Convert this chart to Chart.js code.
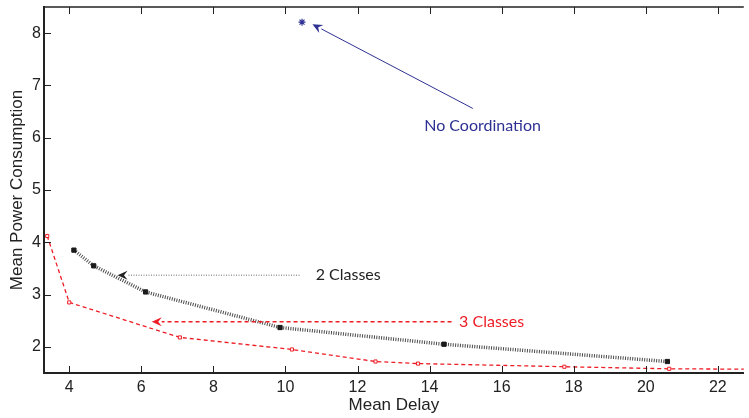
<!DOCTYPE html>
<html><head><meta charset="utf-8">
<script src="https://cdn.jsdelivr.net/npm/chart.js@4"></script>
<style>html,body{margin:0;padding:0;background:#fff;overflow:hidden}</style>
</head><body>
<canvas id="c" width="749" height="418"></canvas>
<script>
// ---- data ----
const xTickValues = [4, 6, 8, 10, 12, 14, 16, 18, 20, 22];
const yTickValues = [2, 3, 4, 5, 6, 7, 8];
const twoClassDelay = [4.13, 4.68, 6.12, 9.85, 14.4, 20.6];
const twoClassPower = [3.85, 3.55, 3.05, 2.37, 2.05, 1.72];
const threeClassDelay = [3.39, 4.0, 7.07, 10.18, 12.5, 13.68, 17.74, 20.65, 24.0];
const threeClassPower = [4.12, 2.85, 2.18, 1.95, 1.72, 1.68, 1.62, 1.58, 1.57];
const noCoordDelay = [10.46];
const noCoordPower = [8.21];
// annotation labels and arrows (data coordinates: [fromX, fromY, toX, toY])
const annotLabels = ['No Coordination', '2 Classes', '3 Classes'];
const annotLabelPos = [[13.85, 6.23], [10.84, 3.38], [14.82, 2.48]];
const annotArrows = [[15.2, 6.56, 10.75, 8.17], [10.39, 3.37, 5.34, 3.37], [14.61, 2.48, 6.29, 2.48]];

const BLUE = '#2e3192', RED = '#ee1c25', INK = '#222222';
const annotColors = [BLUE, INK, RED];
const annotLineColors = [BLUE, '#9a9a9a', RED];
const annotDashes = [[], [1, 1.5], [4, 3]];
const annotWidths = [1, 1.5, 1.5];

const pts = (xs, ys) => xs.map((v, i) => ({x: v, y: ys[i]}));

function drawArrow(ctx, x1, y1, x2, y2, color, lineColor, dash, lw) {
  const ang = Math.atan2(y2 - y1, x2 - x1);
  const hl = 10, hw = 4.5;
  const bx = x2 - hl * Math.cos(ang), by = y2 - hl * Math.sin(ang);
  ctx.save();
  ctx.strokeStyle = lineColor; ctx.lineWidth = lw; ctx.setLineDash(dash);
  ctx.beginPath(); ctx.moveTo(x1, y1); ctx.lineTo(bx, by); ctx.stroke();
  ctx.setLineDash([]);
  ctx.fillStyle = color;
  ctx.beginPath();
  ctx.moveTo(x2, y2);
  ctx.lineTo(bx - hw * Math.sin(ang), by + hw * Math.cos(ang));
  ctx.lineTo(x2 - 0.65 * hl * Math.cos(ang), y2 - 0.65 * hl * Math.sin(ang));
  ctx.lineTo(bx + hw * Math.sin(ang), by - hw * Math.cos(ang));
  ctx.closePath(); ctx.fill();
  ctx.restore();
}

const boxPlugin = {
  id: 'box',
  afterDraw(chart) {
    const {ctx, chartArea: a, scales: {x, y}} = chart;
    ctx.save();
    ctx.strokeStyle = INK;
    ctx.lineWidth = 1.5;
    ctx.beginPath(); ctx.moveTo(a.left, a.top); ctx.lineTo(a.right, a.top); ctx.stroke();
    ctx.lineWidth = 1;
    ctx.beginPath();
    xTickValues.forEach(v => {
      const px = Math.round(x.getPixelForValue(v)) + 0.5;
      ctx.moveTo(px, a.bottom); ctx.lineTo(px, a.bottom - 7);
      ctx.moveTo(px, a.top); ctx.lineTo(px, a.top + 7);
    });
    yTickValues.forEach(v => {
      const py = Math.round(y.getPixelForValue(v)) + 0.5;
      ctx.moveTo(a.left, py); ctx.lineTo(a.left + 7, py);
    });
    ctx.stroke();
    ctx.restore();
    annotArrows.forEach((r, i) => {
      drawArrow(ctx, x.getPixelForValue(r[0]), y.getPixelForValue(r[1]),
        x.getPixelForValue(r[2]), y.getPixelForValue(r[3]),
        annotColors[i], annotLineColors[i], annotDashes[i], annotWidths[i]);
    });
    ctx.save();
    ctx.font = '16px Lato';
    ctx.textAlign = 'left'; ctx.textBaseline = 'middle';
    annotLabels.forEach((t, i) => {
      ctx.fillStyle = annotColors[i];
      ctx.fillText(t, x.getPixelForValue(annotLabelPos[i][0]), y.getPixelForValue(annotLabelPos[i][1]));
    });
    ctx.restore();
  }
};

new Chart(document.getElementById('c'), {
  type: 'scatter',
  data: {
    datasets: [
      {
        label: '2 Classes', data: pts(twoClassDelay, twoClassPower), showLine: true,
        borderColor: '#4a4a4a', borderWidth: 3.5, borderDash: [1, 1.4],
        pointStyle: 'rect', pointRadius: 3, pointBorderWidth: 1,
        pointBackgroundColor: '#1a1a1a', pointBorderColor: '#1a1a1a'
      },
      {
        label: '3 Classes', data: pts(threeClassDelay, threeClassPower), showLine: true,
        borderColor: RED, borderWidth: 1.3, borderDash: [4, 3],
        pointStyle: 'rect', pointRadius: 2.2, pointBorderWidth: 1,
        pointBackgroundColor: '#ffffff', pointBorderColor: RED
      },
      {
        label: 'No Coordination', data: pts(noCoordDelay, noCoordPower), showLine: false,
        pointStyle: 'star', pointRadius: 3.5, pointBorderWidth: 1.2,
        pointBorderColor: BLUE, pointBackgroundColor: BLUE
      }
    ]
  },
  options: {
    responsive: false, animation: false, devicePixelRatio: 1,
    layout: {padding: {top: 7, right: 0, left: 0, bottom: 0}},
    plugins: {legend: {display: false}, tooltip: {enabled: false}},
    scales: {
      x: {
        type: 'linear', min: 3.3, max: 22.72,
        afterBuildTicks: s => { s.ticks = xTickValues.map(v => ({value: v})); },
        afterFit: s => { s.height = 45; s.paddingLeft = 0; s.paddingRight = 0; },
        grid: {display: true, drawOnChartArea: false, drawTicks: false},
        border: {display: true, color: INK, width: 2},
        ticks: {padding: 5, color: INK, font: {family: 'Liberation Sans', size: 16}, maxRotation: 0, autoSkip: false},
        title: {display: true, text: 'Mean Delay', color: INK, font: {family: 'Liberation Sans', size: 17}, padding: {top: 0, bottom: 2}}
      },
      y: {
        type: 'linear', min: 1.5, max: 8.5,
        afterBuildTicks: s => { s.ticks = yTickValues.map(v => ({value: v})); },
        afterFit: s => { s.width = 44; s.paddingTop = 0; s.paddingBottom = 0; },
        grid: {display: true, drawOnChartArea: false, drawTicks: false},
        border: {display: true, color: INK, width: 2},
        ticks: {padding: 3, color: INK, font: {family: 'Liberation Sans', size: 16}, autoSkip: false},
        title: {display: true, text: 'Mean Power Consumption', color: INK, font: {family: 'Liberation Sans', size: 17}, padding: {top: 7, bottom: 0}}
      }
    }
  },
  plugins: [boxPlugin]
});
</script>
</body></html>
